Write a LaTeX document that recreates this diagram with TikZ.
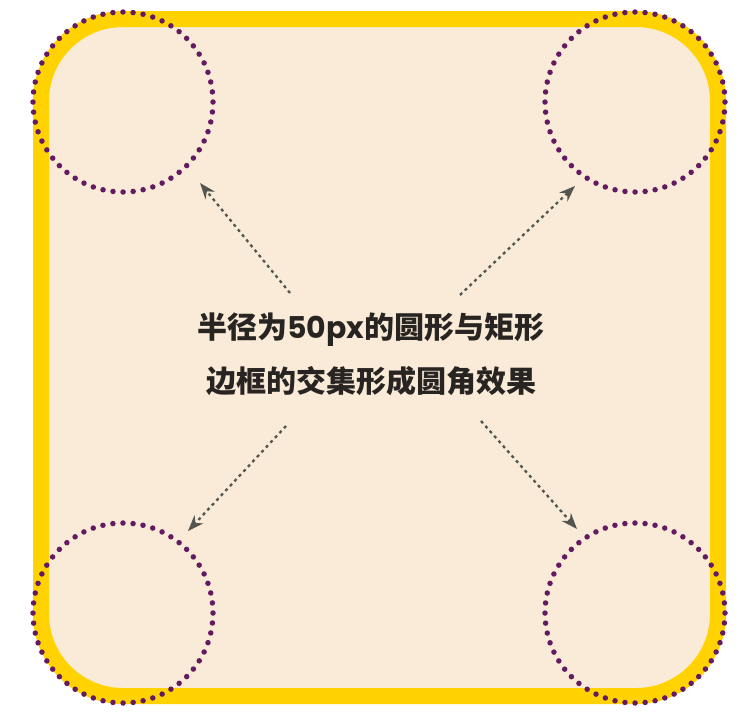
\documentclass[tikz,border=0pt]{standalone}
\usepackage{fontspec}
\newfontfamily\cjk{Noto Sans CJK SC}
\newfontfamily\digits{Poppins}
\usetikzlibrary{arrows.meta}
\definecolor{paper}{RGB}{249,235,216}
\definecolor{gold}{RGB}{255,210,0}
\definecolor{plum}{RGB}{100,26,96}
\definecolor{ink}{RGB}{40,36,34}
\definecolor{pointergray}{RGB}{85,85,80}
\tikzset{
  frame/.style={draw=gold, fill=paper, line width=16pt, rounded corners=82pt},
  corner/.style={circle, draw=plum, line width=5.5pt, line cap=round,
    dash pattern=on 0pt off 10.1pt, minimum size=180pt, inner sep=0pt},
  pointer/.style={draw=pointergray, line width=2.3pt, dash pattern=on 3pt off 3.6pt,
    -{Stealth[length=16pt,width=12pt]}},
}
\begin{document}
\begin{tikzpicture}[x=1pt,y=-1pt]
\useasboundingbox[fill=white] (0,0) rectangle (754,712);
\draw[frame] (41,19) rectangle (718,696);
\foreach \name/\cx/\cy in {tl/123/102, tr/635/102, bl/123/613, br/635/613}
  \node[corner] (\name) at (\cx,\cy) {};
\node[text=ink, align=center, font=\cjk\bfseries\fontsize{30}{54}\selectfont]
  (caption) at (371,354) {半径为{\digits\bfseries 50px}的圆形与矩形\\边框的交集形成圆角效果};
\coordinate (tlFrom) at (290,293);
\coordinate (tlTo) at (200,183);
\coordinate (trFrom) at (460,295);
\coordinate (trTo) at (575,186);
\coordinate (blFrom) at (286,426);
\coordinate (blTo) at (188,531);
\coordinate (brFrom) at (481,421);
\coordinate (brTo) at (577,529);
\foreach \name in {tl,tr,bl,br}
  \draw[pointer] (\name From) -- (\name To);
\end{tikzpicture}
\end{document}
